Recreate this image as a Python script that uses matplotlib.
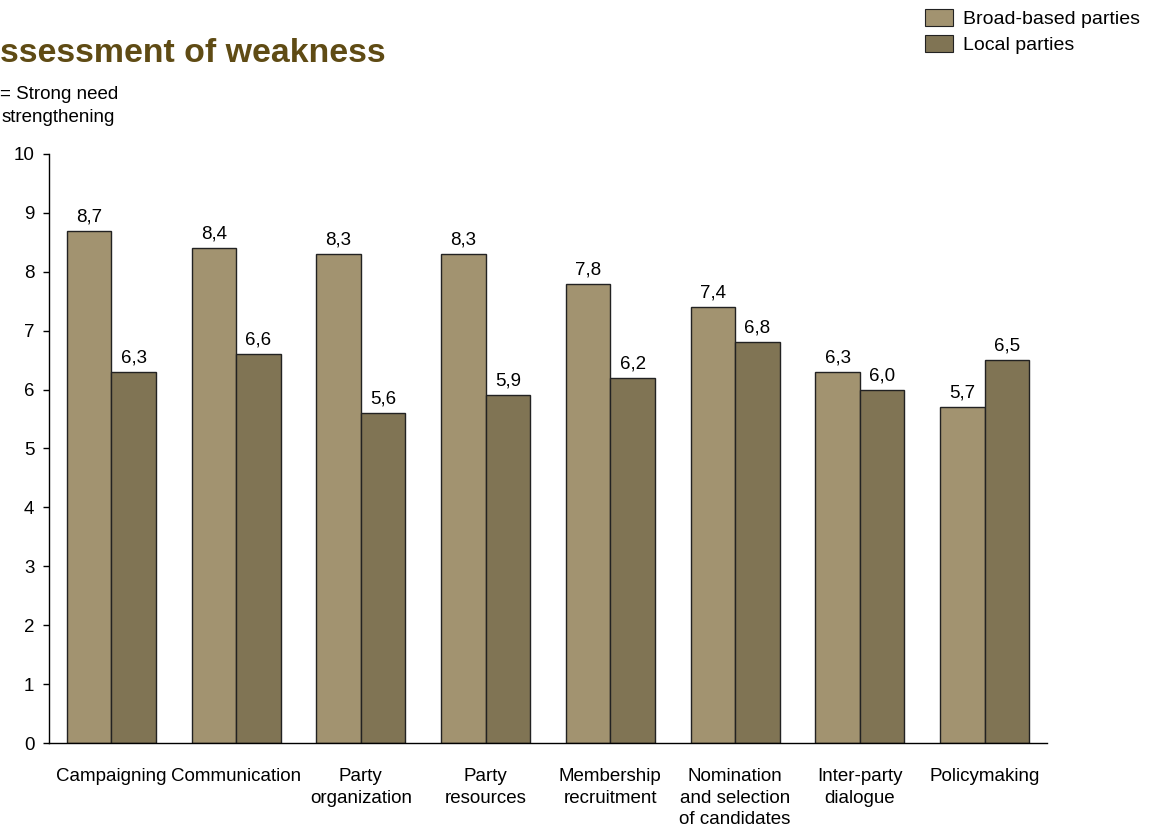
import matplotlib
matplotlib.use("Agg")
import matplotlib.pyplot as plt
import numpy as np
from matplotlib.patches import Patch

plt.rcParams['font.family'] = ['Liberation Sans', 'DejaVu Sans']

# Data
categories = ["Campaigning", "Communication", "Party\norganization", "Party\nresources",
              "Membership\nrecruitment", "Nomination\nand selection\nof candidates",
              "Inter-party\ndialogue", "Policymaking"]
broad_based = [8.7, 8.4, 8.3, 8.3, 7.8, 7.4, 6.3, 5.7]
local = [6.3, 6.6, 5.6, 5.9, 6.2, 6.8, 6.0, 6.5]
series_names = ["Broad-based parties", "Local parties"]

broad_col = '#A29370'
local_col = '#807454'
title_col = '#5F4B14'

fig = plt.figure(figsize=(11.53, 8.36), dpi=100)
ax = fig.add_axes([49/1153, 1-743/836, 998/1153, 589/836])

x = np.arange(len(categories))
w = 0.357
b1 = ax.bar(x - w/2, broad_based, w, color=broad_col, edgecolor='#222222', linewidth=1)
b2 = ax.bar(x + w/2, local, w, color=local_col, edgecolor='#222222', linewidth=1)

def fmt(v):
    return f"{v:.1f}".replace('.', ',')

for bars, vals in [(b1, broad_based), (b2, local)]:
    for r, v in zip(bars, vals):
        ax.annotate(fmt(v), (r.get_x() + r.get_width()/2, v), xytext=(0, 4),
                    textcoords='offset points', ha='center', va='bottom', fontsize=13.5)

ax.set_xlim(-0.5, len(categories) - 0.5)
ax.set_ylim(0, 10)
ax.set_yticks(range(0, 11))
ax.set_xticks(x)
ax.set_xticklabels(categories, fontsize=13.5, linespacing=1.35)
ax.tick_params(axis='x', length=0, pad=18)
ax.tick_params(axis='y', direction='out', length=4.5, width=1, labelsize=13.5, pad=6)
for s in ['top', 'right']:
    ax.spines[s].set_visible(False)
for s in ['left', 'bottom']:
    ax.spines[s].set_linewidth(1)

# Title and scale note (left part runs off the page)
fig.text(0, 1-62/836, "ssessment of weakness", ha='left', va='baseline',
         fontsize=24.4, fontweight='bold', color=title_col)
fig.text(0, 1-99/836, "= Strong need", ha='left', va='baseline', fontsize=13.5)
fig.text(2/1153, 1-122/836, "strengthening", ha='left', va='baseline', fontsize=13.5)

handles = [Patch(facecolor=broad_col, edgecolor='#222222', linewidth=0.8),
           Patch(facecolor=local_col, edgecolor='#222222', linewidth=0.8)]
fig.legend(handles, series_names, loc='upper left', bbox_to_anchor=(925/1153, 1-9/836),
           frameon=False, fontsize=14, handlelength=1.44, handleheight=0.98,
           handletextpad=0.5, labelspacing=0.36, borderpad=0, borderaxespad=0)

fig.savefig("out.png", dpi=100)
